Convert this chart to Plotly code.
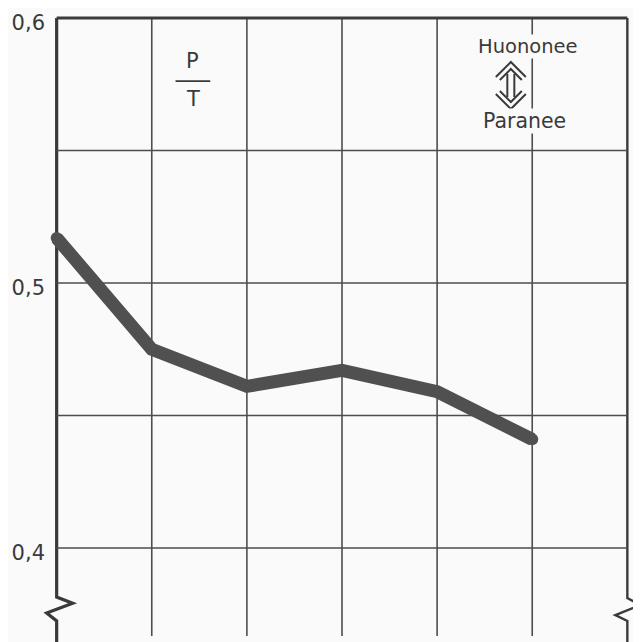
import plotly.graph_objects as go

# ---- data ----
x_positions = [0, 1, 2, 3, 4, 5]
ratio_values = [0.517, 0.475, 0.461, 0.467, 0.459, 0.441]
y_grid = [0.4, 0.45, 0.5, 0.55]
y_top = 0.6
y_ticks = [0.4, 0.5, 0.6]
y_tick_labels = ["0,4", "0,5", "0,6"]
x_grid = [1, 2, 3, 4, 5]
x_left, x_right = 0, 6

# ---- layout constants (page body has an 8px margin) ----
W, H = 633, 634
L, R, T, B = 42, 7, 6, 6
x_range = [-0.07, 6.07]
y_range = [0.3668, 0.6015]
BG = "#fafafa"
INK = "#3a3a3a"
GRID = "#4d4d4d"
FONT = "DejaVu Sans"
PX_X = (W - L - R) / (x_range[1] - x_range[0])
PX_Y = (H - T - B) / (y_range[1] - y_range[0])


def xp(v):
    return (v - x_range[0]) / (x_range[1] - x_range[0])


def yp(v):
    return (v - y_range[0]) / (y_range[1] - y_range[0])


fig = go.Figure()
fig.add_trace(go.Scatter(
    x=x_positions, y=ratio_values, mode="lines+markers",
    line=dict(color="#505050", width=13),
    marker=dict(color="#505050", size=12, line=dict(width=0)),
    hoverinfo="skip", showlegend=False,
))

shapes = []
for g in y_grid:
    shapes.append(dict(type="line", xref="x", yref="y", x0=x_left, x1=x_right, y0=g, y1=g,
                       line=dict(color=GRID, width=1.6), layer="below"))
for g in x_grid:
    shapes.append(dict(type="line", xref="x", yref="y", x0=g, x1=g, y0=y_range[0], y1=y_top,
                       line=dict(color=GRID, width=1.6), layer="below"))
# top border
shapes.append(dict(type="line", xref="x", yref="y", x0=x_left, x1=x_right, y0=y_top, y1=y_top,
                   line=dict(color=INK, width=3.2), layer="below"))


def path_from(xa, pts):
    d = ""
    for i, (dx, yv) in enumerate(pts):
        d += ("M" if i == 0 else "L") + f"{xp(xa + dx):.5f},{yp(yv):.5f} "
    return d


left_pts = [(0, y_top), (0, 0.3815), (0.168, 0.3792), (-0.105, 0.3755), (0, 0.3725), (0, 0.3625)]
right_pts = [(0, y_top), (0, 0.3811), (0.137, 0.3785), (-0.126, 0.3747), (0, 0.3725), (0, 0.3625)]
shapes.append(dict(type="path", xref="paper", yref="paper", path=path_from(x_left, left_pts),
                   line=dict(color=INK, width=3.2), layer="below"))
shapes.append(dict(type="path", xref="paper", yref="paper", path=path_from(x_right, right_pts),
                   line=dict(color=INK, width=2.4), layer="below"))
# fraction bar
shapes.append(dict(type="line", xref="x", yref="y", x0=1.25, x1=1.615, y0=0.5762, y1=0.5762,
                   line=dict(color=INK, width=1.8)))

# double arrow (pixel offsets from its centre)
ax, ay = 4.775, 0.5747


def arrow_path(pts):
    d = ""
    for i, (dx, dy) in enumerate(pts):
        d += ("M" if i == 0 else "L") + f"{xp(ax + dx / PX_X):.5f},{yp(ay - dy / PX_Y):.5f} "
    return d


arrow_parts = [
    [(-15, -8), (0, -23), (15, -8)],
    [(-11, -5), (0, -16), (11, -5)],
    [(-15, 9), (0, 24), (15, 9)],
    [(-11, 6), (0, 17), (11, 6)],
    [(-3.5, -11), (-3.5, 12)],
    [(3.5, -11), (3.5, 12)],
]
for part in arrow_parts:
    shapes.append(dict(type="path", xref="paper", yref="paper", path=arrow_path(part),
                       line=dict(color=INK, width=2)))

annotations = [
    dict(x=1.43, y=0.5838, text="P", showarrow=False, font=dict(size=21, color=INK, family=FONT)),
    dict(x=1.43, y=0.5693, text="T", showarrow=False, font=dict(size=21, color=INK, family=FONT)),
    dict(x=4.96, y=0.5894, text="Huononee", showarrow=False, bgcolor=BG, borderpad=0,
         font=dict(size=19.5, color=INK, family=FONT)),
    dict(x=4.92, y=0.5612, text="Paranee", showarrow=False, bgcolor=BG, borderpad=0,
         font=dict(size=20.5, color=INK, family=FONT)),
]

fig.update_layout(
    width=W, height=H,
    margin=dict(l=L, r=R, t=T, b=B, autoexpand=False),
    paper_bgcolor=BG, plot_bgcolor=BG,
    shapes=shapes, annotations=annotations,
    xaxis=dict(range=x_range, showgrid=False, zeroline=False, showticklabels=False,
               showline=False, ticks="", automargin=False),
    yaxis=dict(range=y_range, showgrid=False, zeroline=False, showline=False,
               tickvals=y_ticks, ticktext=y_tick_labels, ticks="", automargin=False,
               tickfont=dict(size=21, color=INK, family=FONT), ticklabelstandoff=4,
               ticklabelshift=5, ticklabeloverflow="allow"),
)

fig.write_html("out.html")
